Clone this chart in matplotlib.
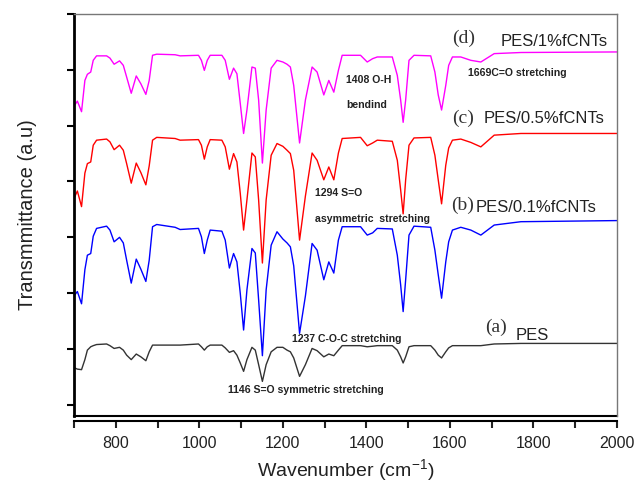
import matplotlib
matplotlib.use("Agg")
import matplotlib.pyplot as plt
from matplotlib.ticker import MultipleLocator

plt.rcParams['font.family'] = ['Liberation Sans', 'DejaVu Sans']
plt.rcParams['mathtext.fontset'] = 'custom'
plt.rcParams['mathtext.rm'] = 'Liberation Sans'

# FTIR spectra, stacked: (a) PES, (b) 0.1%, (c) 0.5%, (d) 1% fCNTs
wavenumber = [702, 708, 718, 726, 732, 740, 746, 754, 778, 786,
              796, 809, 818, 826, 837, 849, 860, 872, 880, 888,
              898, 942, 954, 998, 1005, 1012, 1019, 1026, 1054, 1062,
              1072, 1082, 1090, 1098, 1106, 1114, 1126, 1134, 1142, 1151,
              1160, 1172, 1186, 1200, 1210, 1218, 1226, 1240, 1254, 1270,
              1282, 1298, 1310, 1322, 1333, 1342, 1386, 1402, 1415, 1426,
              1462, 1474, 1482, 1488, 1494, 1502, 1514, 1554, 1564, 1572,
              1580, 1590, 1597, 1606, 1626, 1650, 1674, 1706, 1770, 2000]

pes_1 = [5.37, 5.44, 5.25, 5.81, 5.92, 5.96, 6.17, 6.25, 6.25, 6.21,
         6.10, 6.16, 6.08, 5.87, 5.58, 5.89, 5.75, 5.56, 5.81, 6.26,
         6.28, 6.27, 6.25, 6.26, 6.17, 5.99, 6.17, 6.26, 6.26, 6.17,
         5.83, 6.03, 5.93, 5.40, 4.86, 5.28, 6.05, 6.03, 5.46, 4.33,
         5.28, 6.03, 6.17, 6.14, 6.10, 6.05, 5.72, 4.69, 5.46, 6.05,
         5.96, 5.55, 5.81, 5.60, 5.99, 6.26, 6.26, 6.14, 6.20, 6.23,
         6.23, 5.90, 5.46, 5.06, 5.46, 6.17, 6.26, 6.25, 5.96, 5.55,
         5.28, 5.72, 6.08, 6.23, 6.23, 6.17, 6.14, 6.29, 6.31, 6.32]

pes_05 = [3.73, 3.83, 3.55, 4.15, 4.32, 4.35, 4.65, 4.74, 4.76, 4.71,
          4.57, 4.65, 4.56, 4.32, 3.97, 4.33, 4.16, 3.94, 4.28, 4.74,
          4.79, 4.77, 4.74, 4.75, 4.65, 4.40, 4.62, 4.75, 4.74, 4.62,
          4.22, 4.50, 4.35, 3.79, 3.13, 3.67, 4.51, 4.44, 3.67, 2.54,
          3.67, 4.47, 4.68, 4.63, 4.56, 4.50, 4.20, 2.95, 3.74, 4.51,
          4.38, 4.03, 4.26, 4.03, 4.51, 4.77, 4.79, 4.64, 4.69, 4.74,
          4.72, 4.38, 3.85, 3.42, 4.03, 4.65, 4.78, 4.79, 4.47, 4.03,
          3.60, 4.29, 4.60, 4.74, 4.76, 4.70, 4.62, 4.83, 4.86, 4.86]

pes_01 = [1.97, 2.03, 1.81, 2.42, 2.68, 2.71, 3.02, 3.16, 3.20, 3.13,
          2.92, 3.00, 2.90, 2.59, 2.18, 2.61, 2.43, 2.21, 2.59, 3.19,
          3.23, 3.18, 3.14, 3.16, 3.01, 2.71, 2.95, 3.13, 3.11, 2.95,
          2.45, 2.71, 2.56, 2.00, 1.34, 2.06, 2.80, 2.72, 1.88, 0.88,
          2.06, 2.86, 3.10, 2.97, 2.90, 2.83, 2.49, 1.28, 1.95, 2.89,
          2.77, 2.24, 2.56, 2.36, 2.95, 3.19, 3.19, 3.04, 3.08, 3.16,
          3.15, 2.68, 2.15, 1.67, 2.24, 3.04, 3.20, 3.18, 2.77, 2.33,
          1.91, 2.56, 2.92, 3.13, 3.18, 3.13, 3.04, 3.22, 3.28, 3.30]

pes = [0.66, 0.64, 0.63, 0.81, 0.98, 1.04, 1.06, 1.08, 1.09, 1.06,
       1.01, 1.03, 0.98, 0.89, 0.81, 0.91, 0.86, 0.79, 0.95, 1.07,
       1.07, 1.07, 1.07, 1.09, 1.04, 0.98, 1.04, 1.07, 1.07, 1.02,
       0.94, 0.97, 0.89, 0.75, 0.60, 0.81, 1.03, 0.98, 0.72, 0.42,
       0.72, 0.95, 1.03, 1.03, 0.98, 0.95, 0.84, 0.51, 0.72, 1.01,
       0.97, 0.86, 0.91, 0.88, 0.98, 1.06, 1.06, 1.04, 1.05, 1.06,
       1.06, 0.98, 0.86, 0.75, 0.86, 1.04, 1.06, 1.06, 0.98, 0.89,
       0.84, 0.95, 1.02, 1.06, 1.06, 1.06, 1.06, 1.09, 1.10, 1.10]

fig = plt.figure(figsize=(6.37, 4.82), dpi=100)
ax = fig.add_axes([0.1162, 0.1369, 0.8524, 0.8341])

line = dict(lw=1.0, solid_joinstyle='round')
ax.plot(wavenumber, pes, color='#333333', **line)
ax.plot(wavenumber, pes_01, color='#0000FF', **line)
ax.plot(wavenumber, pes_05, color='#FF0000', **line)
ax.plot(wavenumber, pes_1, color='#FF00FF', **line)

ax.set_xlim(700, 2000)
ax.set_ylim(-0.2, 7)

ax.xaxis.set_major_locator(MultipleLocator(200))
ax.xaxis.set_minor_locator(MultipleLocator(100))
ax.yaxis.set_major_locator(MultipleLocator(1))
ax.set_yticklabels([])
ax.tick_params(axis='x', which='both', direction='out', length=5, width=1.5,
               labelsize=11.5, pad=6, colors='#222222')
ax.tick_params(axis='y', direction='out', length=5, width=1.5)

ax.spines['left'].set_linewidth(2)
ax.spines['bottom'].set_position(('outward', 3.6))
ax.spines['bottom'].set_linewidth(1.5)
for s in ['top', 'right']:
    ax.spines[s].set_color('#777777')
    ax.spines[s].set_linewidth(1.0)
# frame line along the bottom of the plotting area
ax.plot([0, 1], [0, 0], transform=ax.transAxes, color='k', lw=1.5, clip_on=False)

ax.set_xlabel(r'Wavenumber (cm$\mathregular{^{-1}}$)', fontsize=14, labelpad=4,
              color='#222222')
ax.set_ylabel('Transmmittance (a.u)', fontsize=14.5, labelpad=18, color='#222222')

serif = dict(family='Liberation Serif', fontsize=14, color='#333333', ha='center', va='center')
sans = dict(fontsize=12, color='#222222', ha='left', va='center')
ax.text(1633, 6.57, '(d)', **serif)
ax.text(1722, 6.51, 'PES/1%fCNTs', **sans)
ax.text(1631, 5.13, '(c)', **serif)
ax.text(1681, 5.13, 'PES/0.5%fCNTs', **sans)
ax.text(1631, 3.58, '(b)', **serif)
ax.text(1662, 3.54, 'PES/0.1%fCNTs', **sans)
ax.text(1710, 1.38, '(a)', **serif)
ax.text(1758, 1.25, 'PES', **sans)

note = dict(fontsize=7.6, fontweight='bold', color='#222222', ha='left', va='center')
ax.text(1352, 5.81, '1408 O-H', **note)
ax.text(1352, 5.37, 'bendind', **note)
ax.text(1643, 5.94, '1669C=O stretching', **note)
ax.text(1278, 3.79, '1294 S=O', **note)
ax.text(1278, 3.33, 'asymmetric  stretching', **note)
ax.text(1223, 1.18, '1237 C-O-C stretching', **note)
ax.text(1069, 0.27, '1146 S=O symmetric stretching', **note)

fig.savefig('out.png', dpi=100)
